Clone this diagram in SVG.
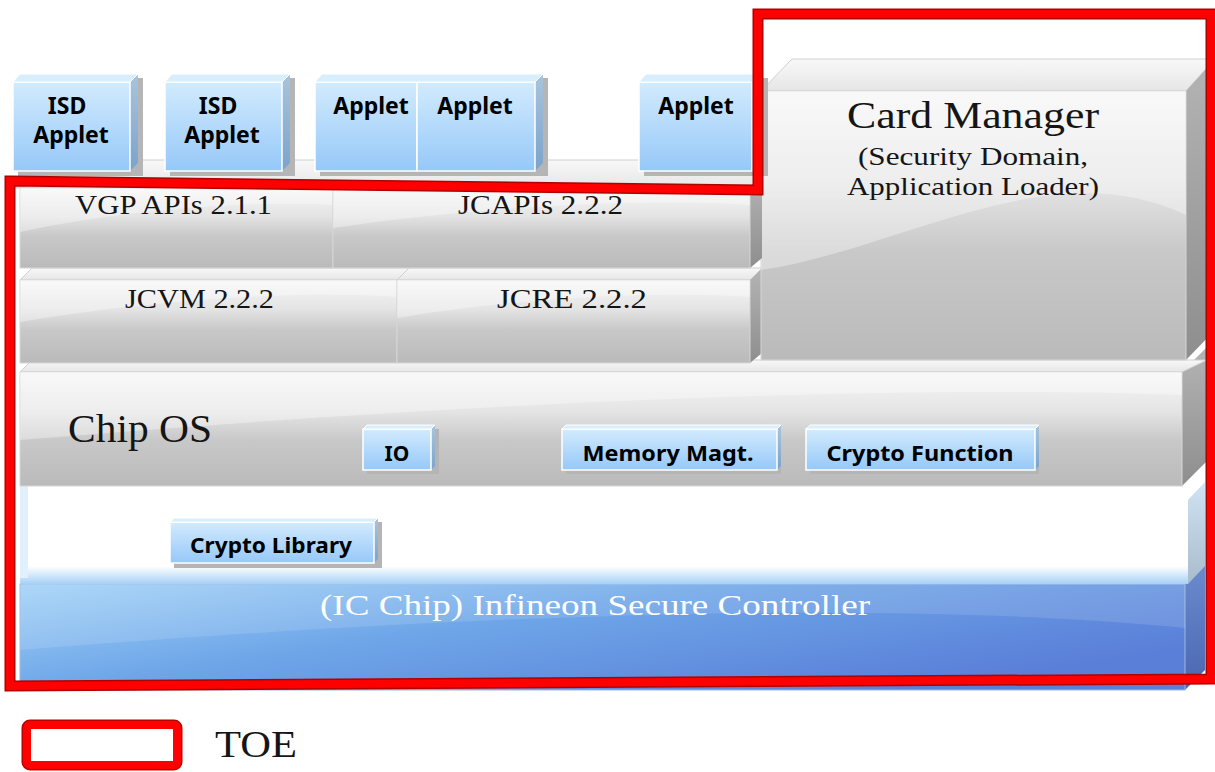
<svg xmlns="http://www.w3.org/2000/svg" width="1215" height="772" viewBox="0 0 1215 772">
<defs>
<linearGradient id="gFront" x1="0" y1="0" x2="0" y2="1">
<stop offset="0" stop-color="#f6f6f6"/><stop offset="0.35" stop-color="#e4e4e4"/><stop offset="0.6" stop-color="#c8c8c8"/><stop offset="1" stop-color="#bababa"/>
</linearGradient>
<linearGradient id="gTop" x1="0" y1="0" x2="0" y2="1">
<stop offset="0" stop-color="#f8f8f8"/><stop offset="1" stop-color="#e6e6e6"/>
</linearGradient>
<linearGradient id="gSide" x1="0" y1="0" x2="0" y2="1">
<stop offset="0" stop-color="#b4b4b4"/><stop offset="1" stop-color="#8e8e8e"/>
</linearGradient>
<linearGradient id="gApp" x1="0" y1="0" x2="0" y2="1">
<stop offset="0" stop-color="#d2ebfe"/><stop offset="1" stop-color="#96c8f8"/>
</linearGradient>
<linearGradient id="gAppSide" x1="0" y1="0" x2="0" y2="1">
<stop offset="0" stop-color="#a9c4dc"/><stop offset="1" stop-color="#7ba3cb"/>
</linearGradient>
<linearGradient id="gChip" x1="0" y1="0" x2="1" y2="0.6">
<stop offset="0" stop-color="#a2d2f8"/><stop offset="0.45" stop-color="#6ea6e8"/><stop offset="1" stop-color="#5a7fd8"/>
</linearGradient>
<linearGradient id="gChipSide" x1="0" y1="0" x2="0" y2="1">
<stop offset="0" stop-color="#6b8bcf"/><stop offset="1" stop-color="#4a66b0"/>
</linearGradient>
<linearGradient id="gWhite" x1="0" y1="0" x2="0" y2="1">
<stop offset="0" stop-color="#ffffff"/><stop offset="0.82" stop-color="#ffffff"/><stop offset="1" stop-color="#a6d0f6"/>
</linearGradient>
<linearGradient id="gWhiteSide" x1="0" y1="0" x2="0" y2="1">
<stop offset="0" stop-color="#cfe3f5"/><stop offset="1" stop-color="#a9bccc"/>
</linearGradient>
<style>
.serif{font-family:"Liberation Serif","DejaVu Serif",serif;fill:#151515}
.bold{font-family:"Noto Sans","Open Sans","Liberation Sans",sans-serif;font-weight:bold;fill:#000;text-anchor:middle}
.front{fill:url(#gFront);stroke:#d6d6d6;stroke-width:1}
.top{fill:url(#gTop);stroke:#d0d0d0;stroke-width:1}
.side{fill:url(#gSide)}
.app{fill:url(#gApp);stroke:#ffffff;stroke-width:1.5}
.appTop{fill:#d8eefd;stroke:#ffffff;stroke-width:1}
.appSide{fill:url(#gAppSide)}
.shadow{fill:#b5b5b5}
.swoosh{fill:#ffffff;opacity:0.35}
</style>
</defs>
<rect width="1215" height="772" fill="#ffffff"/>

<g id="ic-chip">
<polygon points="1185,584 1205,564 1205,670 1185,690" fill="url(#gChipSide)"/>
<rect x="20" y="584" width="1165" height="106" fill="url(#gChip)" stroke="#9bbbe0" stroke-width="1"/>
<path d="M20,584 L1185,584 L1185,628 C900,600 500,612 20,650 Z" fill="#ffffff" opacity="0.12"/>
<text class="serif" x="320" y="615" font-size="30" textLength="550" lengthAdjust="spacingAndGlyphs" style="fill:#ffffff">(IC Chip) Infineon Secure Controller</text>
</g>

<g id="white-layer">
<polygon points="1188,500 1205,482 1205,566 1188,584" fill="url(#gWhiteSide)"/>
<rect x="20" y="486" width="1168" height="98" fill="url(#gWhite)"/>
<rect x="20" y="486" width="8" height="92" fill="#e2f0fc"/>
</g>

<g id="chip-os">
<polygon points="1182,372 1207,347 1207,461 1182,486" class="side"/>
<polygon points="20,372 32,360 1207,360 1182,372" class="top"/>
<rect x="20" y="372" width="1162" height="114" class="front"/>
<path d="M20,372 L1182,372 L1182,395 C900,385 500,400 20,440 Z" class="swoosh"/>
<text class="serif" x="68" y="442" font-size="40" textLength="144" lengthAdjust="spacingAndGlyphs">Chip OS</text>
</g>

<g id="io">
<rect x="367" y="429" width="72" height="45" class="shadow"/>
<polygon points="431,429 435,425 435,466 431,470" class="appSide"/>
<rect x="363" y="429" width="68" height="41" class="app"/>
<polygon points="363,429 367,425 435,425 431,429" class="appTop"/>
<text class="bold" x="397" y="461" font-size="21">IO</text>
</g>

<g id="memory-magt">
<rect x="566" y="429" width="215" height="45" class="shadow"/>
<polygon points="777,429 781,425 781,466 777,470" class="appSide"/>
<rect x="562" y="429" width="215" height="41" class="app"/>
<polygon points="562,429 566,425 781,425 777,429" class="appTop"/>
<text class="bold" x="668" y="461" font-size="22" textLength="171" lengthAdjust="spacingAndGlyphs">Memory Magt.</text>
</g>

<g id="crypto-function">
<rect x="810" y="429" width="229" height="45" class="shadow"/>
<polygon points="1035,429 1039,425 1039,466 1035,470" class="appSide"/>
<rect x="806" y="429" width="229" height="41" class="app"/>
<polygon points="806,429 810,425 1039,425 1035,429" class="appTop"/>
<text class="bold" x="920" y="461" font-size="22" textLength="187" lengthAdjust="spacingAndGlyphs">Crypto Function</text>
</g>

<g id="crypto-library">
<rect x="174" y="522" width="208" height="46" class="shadow"/>
<polygon points="374,522 378,518 378,559 374,563" class="appSide"/>
<rect x="170" y="522" width="204" height="41" class="app"/>
<polygon points="170,522 174,518 378,518 374,522" class="appTop"/>
<text class="bold" x="271" y="553" font-size="22" textLength="162" lengthAdjust="spacingAndGlyphs">Crypto Library</text>
</g>

<g id="jcvm">
<polygon points="20,280 32,268 410,268 397,280" class="top"/>
<rect x="20" y="280" width="377" height="83" class="front"/>
<path d="M20,280 L397,280 L397,297 C300,290 150,300 20,322 Z" class="swoosh"/>
<text class="serif" x="125" y="308" font-size="27" textLength="149" lengthAdjust="spacingAndGlyphs">JCVM 2.2.2</text>
</g>

<g id="jcre">
<polygon points="397,280 409,268 772,268 750,280" class="top"/>
<polygon points="750,280 762,268 762,353 750,363" class="side"/>
<rect x="397" y="280" width="353" height="83" class="front"/>
<path d="M397,280 L750,280 L750,297 C650,290 500,300 397,318 Z" class="swoosh"/>
<text class="serif" x="497" y="308" font-size="27" textLength="150" lengthAdjust="spacingAndGlyphs">JCRE  2.2.2</text>
</g>

<g id="vgp-jcapi-top">
<polygon points="14,188 42,160 778,160 750,188" class="top"/>
</g>

<g id="card-manager">
<polygon points="761,91 792,59 1215,59 1186,91" class="top"/>
<polygon points="1186,91 1215,59 1215,330 1186,360" class="side"/>
<rect x="761" y="91" width="425" height="269" class="front"/>
<path d="M761,91 L1186,91 L1186,215 C1050,150 900,250 761,270 Z" class="swoosh"/>
<text class="serif" x="847" y="128" font-size="38" textLength="252" lengthAdjust="spacingAndGlyphs">Card Manager</text>
<text class="serif" x="858" y="165" font-size="26" textLength="230" lengthAdjust="spacingAndGlyphs">(Security Domain,</text>
<text class="serif" x="847" y="195" font-size="26" textLength="252" lengthAdjust="spacingAndGlyphs">Application Loader)</text>
</g>

<g id="vgp-apis">
<rect x="20" y="188" width="313" height="80" class="front"/>
<path d="M20,188 L333,188 L333,205 C250,200 120,210 20,232 Z" class="swoosh"/>
<text class="serif" x="75" y="214" font-size="27" textLength="197" lengthAdjust="spacingAndGlyphs">VGP APIs 2.1.1</text>
</g>

<g id="jcapis">
<polygon points="750,188 762,176 762,258 750,268" class="side"/>
<rect x="333" y="188" width="417" height="80" class="front"/>
<path d="M333,188 L750,188 L750,205 C650,198 480,206 333,228 Z" class="swoosh"/>
<text class="serif" x="458" y="214" font-size="27" textLength="165" lengthAdjust="spacingAndGlyphs">JCAPIs 2.2.2</text>
</g>

<g id="isd-applet-1">
<rect x="18" y="78" width="125" height="98" class="shadow"/>
<polygon points="130,82 138,74 138,163 130,171" class="appSide"/>
<rect x="13" y="82" width="117" height="89" class="app"/>
<polygon points="13,82 20,74 138,74 130,82" class="appTop"/>
<text class="bold" x="67" y="114" font-size="23">ISD</text>
<text class="bold" x="71" y="143" font-size="23">Applet</text>
</g>

<g id="isd-applet-2">
<rect x="170" y="78" width="125" height="98" class="shadow"/>
<polygon points="282,82 290,74 290,163 282,171" class="appSide"/>
<rect x="165" y="82" width="117" height="89" class="app"/>
<polygon points="165,82 172,74 290,74 282,82" class="appTop"/>
<text class="bold" x="218" y="114" font-size="23">ISD</text>
<text class="bold" x="222" y="143" font-size="23">Applet</text>
</g>

<g id="applet-3-4">
<rect x="320" y="78" width="228" height="98" class="shadow"/>
<polygon points="535,82 543,74 543,163 535,171" class="appSide"/>
<rect x="315" y="82" width="102" height="89" class="app"/>
<rect x="417" y="82" width="118" height="89" class="app"/>
<polygon points="315,82 322,74 543,74 535,82" class="appTop"/>
<text class="bold" x="371" y="114" font-size="23">Applet</text>
<text class="bold" x="475" y="114" font-size="23">Applet</text>
</g>

<g id="applet-5">
<rect x="644" y="78" width="124" height="98" class="shadow"/>
<polygon points="752,82 760,74 760,163 752,171" class="appSide"/>
<rect x="639" y="82" width="113" height="89" class="app"/>
<polygon points="639,82 646,74 760,74 752,82" class="appTop"/>
<text class="bold" x="696" y="114" font-size="23">Applet</text>
</g>

<g id="toe-boundary">
<path d="M10,181 L758,190 L758,14 L1211,14 L1211,679 L10,686 Z" fill="none" stroke="#b00000" stroke-width="11" stroke-linejoin="miter"/>
<path d="M10,181 L758,190 L758,14 L1211,14 L1211,679 L10,686 Z" fill="none" stroke="#ff0000" stroke-width="8" stroke-linejoin="miter"/>
</g>

<g id="legend">
<rect x="27" y="725" width="150" height="40" rx="3" fill="#ffffff" stroke="#c00000" stroke-width="11"/>
<rect x="27" y="725" width="150" height="40" rx="3" fill="#ffffff" stroke="#ff0000" stroke-width="8"/>
<text class="serif" x="215" y="757" font-size="38" textLength="82" lengthAdjust="spacingAndGlyphs">TOE</text>
</g>
</svg>
